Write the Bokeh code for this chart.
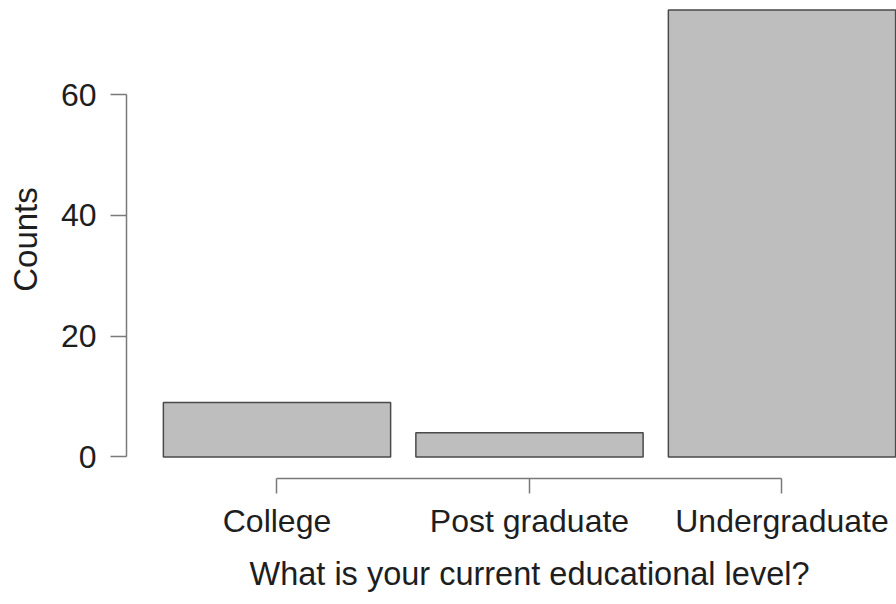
from bokeh.plotting import figure
from bokeh.models import FixedTicker, Range1d, Title, ColumnDataSource
from bokeh.embed import file_html
from bokeh.resources import INLINE

# Survey responses: counts per educational level
levels = ["College", "Post graduate", "Undergraduate"]
counts = [9, 4, 74]
y_ticks = [0, 20, 40, 60]
x_title = "What is your current educational level?"

positions = list(range(1, len(levels) + 1))
source = ColumnDataSource(data=dict(x=positions, top=counts, level=levels))

FONT = "Liberation Sans"
TEXT_COLOR = "#1e1e1e"
AXIS_COLOR = "#7a7a7a"

p = figure(
    width=896, height=604,
    x_range=Range1d(0.404, 3.4535),
    y_range=Range1d(-3.559, 75.56),
    output_backend="svg", toolbar_location=None,
    min_border_left=126, min_border_right=0,
    min_border_top=0, min_border_bottom=126,
)
p.outline_line_color = None
p.xgrid.visible = False
p.ygrid.visible = False
p.background_fill_color = "white"
p.border_fill_color = "white"

p.vbar(x="x", top="top", bottom=0, width=0.9, source=source,
       fill_color="#bebebe", line_color="#4a4a4a", line_width=1.5)

# y axis: line only spans the tick range
yax = p.yaxis[0]
yax.ticker = FixedTicker(ticks=y_ticks)
yax.bounds = (min(y_ticks), max(y_ticks))
yax.minor_tick_line_color = None
yax.major_tick_in = 0
yax.major_tick_out = 16
yax.major_label_standoff = 14
yax.axis_line_color = AXIS_COLOR
yax.axis_line_width = 1.5
yax.major_tick_line_color = AXIS_COLOR
yax.major_tick_line_width = 1.5
yax.major_label_text_font = FONT
yax.major_label_text_font_size = "32px"
yax.major_label_text_color = TEXT_COLOR
yax.axis_label = "Counts"
yax.axis_label_text_font = FONT
yax.axis_label_text_font_size = "33px"
yax.axis_label_text_font_style = "normal"
yax.axis_label_text_color = TEXT_COLOR
yax.axis_label_standoff = 14

# x axis: one tick per category, line between first and last tick
xax = p.xaxis[0]
xax.ticker = FixedTicker(ticks=positions)
xax.major_label_overrides = {pos: name for pos, name in zip(positions, levels)}
xax.bounds = (positions[0], positions[-1])
xax.minor_tick_line_color = None
xax.major_tick_in = 0
xax.major_tick_out = 15
xax.major_label_standoff = 9
xax.axis_line_color = AXIS_COLOR
xax.axis_line_width = 1.5
xax.major_tick_line_color = AXIS_COLOR
xax.major_tick_line_width = 1.5
xax.major_label_text_font = FONT
xax.major_label_text_font_size = "32px"
xax.major_label_text_color = TEXT_COLOR

# x title under the tick labels, centred on the middle tick
p.add_layout(Title(text=x_title, align="left", offset=123,
                   text_font=FONT, text_font_size="32.5px",
                   text_font_style="normal", text_color=TEXT_COLOR,
                   vertical_align="bottom", standoff=25), "below")

open("out.html", "w").write(file_html(p, INLINE))
